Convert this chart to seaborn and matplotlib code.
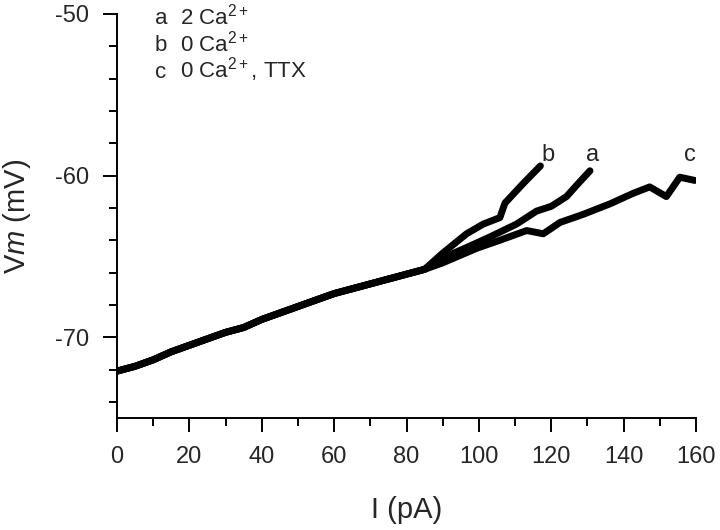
import pandas as pd
import matplotlib
matplotlib.use("Agg")
import matplotlib.pyplot as plt
import seaborn as sns
from matplotlib.ticker import MultipleLocator

# -----------------------------------
# DATA
# -----------------------------------
# shared part of the three ramps
current_common = [0, 5, 10, 15, 20, 25, 30, 35, 40, 45, 50, 55, 60, 65, 70, 75, 80, 85]
vm_common = [-72.1, -71.8, -71.4, -70.9, -70.5, -70.1, -69.7, -69.4, -68.9,
             -68.5, -68.1, -67.7, -67.3, -67.0, -66.7, -66.4, -66.1, -65.8]

# a: 2 Ca2+
current_a = [90, 96.6, 103, 110.4, 115.9, 120, 124.2, 127, 130.7]
vm_a = [-65.1, -64.45, -63.8, -63.0, -62.2, -61.9, -61.3, -60.6, -59.7]

# b: 0 Ca2+
current_b = [90, 96.6, 101.2, 105.8, 107.2, 112.2, 117]
vm_b = [-64.8, -63.6, -63.0, -62.6, -61.7, -60.5, -59.4]

# c: 0 Ca2+, TTX
current_c = [90, 99.4, 105.8, 113.2, 117.8, 122.4, 128.8, 136.2, 142.6,
             147.2, 151.8, 155.5, 159.7]
vm_c = [-65.4, -64.5, -64.0, -63.4, -63.6, -62.9, -62.4, -61.75, -61.1,
        -60.7, -61.3, -60.1, -60.3]

trace_names = ["a", "b", "c"]
trace_labels = ["2 Ca$^{2+}$", "0 Ca$^{2+}$", "0 Ca$^{2+}$, TTX"]
end_label_x = [131.5, 119.1, 158.3]

# -----------------------------------
# BUILD DATAFRAME
# -----------------------------------
tails = {"a": (current_a, vm_a), "b": (current_b, vm_b), "c": (current_c, vm_c)}
rows = []
for name in trace_names:
    xs = current_common + tails[name][0]
    ys = vm_common + tails[name][1]
    for x, y in zip(xs, ys):
        rows.append({"trace": name, "current": x, "vm": y})
df = pd.DataFrame(rows)

# -----------------------------------
# STYLE
# -----------------------------------
sns.set_style("ticks")
plt.rcParams["font.family"] = ["Liberation Sans", "DejaVu Sans"]
plt.rcParams["mathtext.fontset"] = "custom"
plt.rcParams["mathtext.rm"] = "Liberation Sans"
plt.rcParams["mathtext.it"] = "Liberation Sans:italic"
plt.rcParams["axes.unicode_minus"] = False

fig = plt.figure(figsize=(7.2, 5.3), dpi=100)
ax = fig.add_axes([0.1625, 0.2113, 0.8042, 0.7623])

sns.lineplot(
    data=df,
    x="current",
    y="vm",
    units="trace",
    estimator=None,
    sort=False,
    color="black",
    linewidth=5,
    ax=ax
)

# -----------------------------------
# AXES
# -----------------------------------
ax.set_xlim(0, 160)
ax.set_ylim(-75, -50)
ax.xaxis.set_major_locator(MultipleLocator(20))
ax.xaxis.set_minor_locator(MultipleLocator(10))
ax.yaxis.set_major_locator(MultipleLocator(10))
ax.yaxis.set_minor_locator(MultipleLocator(2))

sns.despine(ax=ax)
for side in ["left", "bottom"]:
    ax.spines[side].set_linewidth(1.4)
    ax.spines[side].set_color("black")

ax.tick_params(which="major", direction="out", length=10, width=1.4,
               labelsize=17, pad=10, color="black")
ax.tick_params(which="minor", direction="out", length=6, width=1.4, color="black")

ax.set_xlabel("I (pA)", fontsize=21, labelpad=20)
ax.set_ylabel(r"V$\mathit{m}$ (mV)", fontsize=21, labelpad=16)

# -----------------------------------
# TEXT LABELS
# -----------------------------------
for i, (name, lab) in enumerate(zip(trace_names, trace_labels)):
    y_text = -50.65 - 1.65 * i
    ax.text(10.5, y_text, name, fontsize=16, va="baseline", ha="left")
    ax.text(17.4, y_text, lab, fontsize=16, va="baseline", ha="left")

for name, xpos in zip(trace_names, end_label_x):
    ax.text(xpos, -59.1, name, fontsize=17, va="baseline", ha="center")

plt.savefig("out.png", dpi=100)
